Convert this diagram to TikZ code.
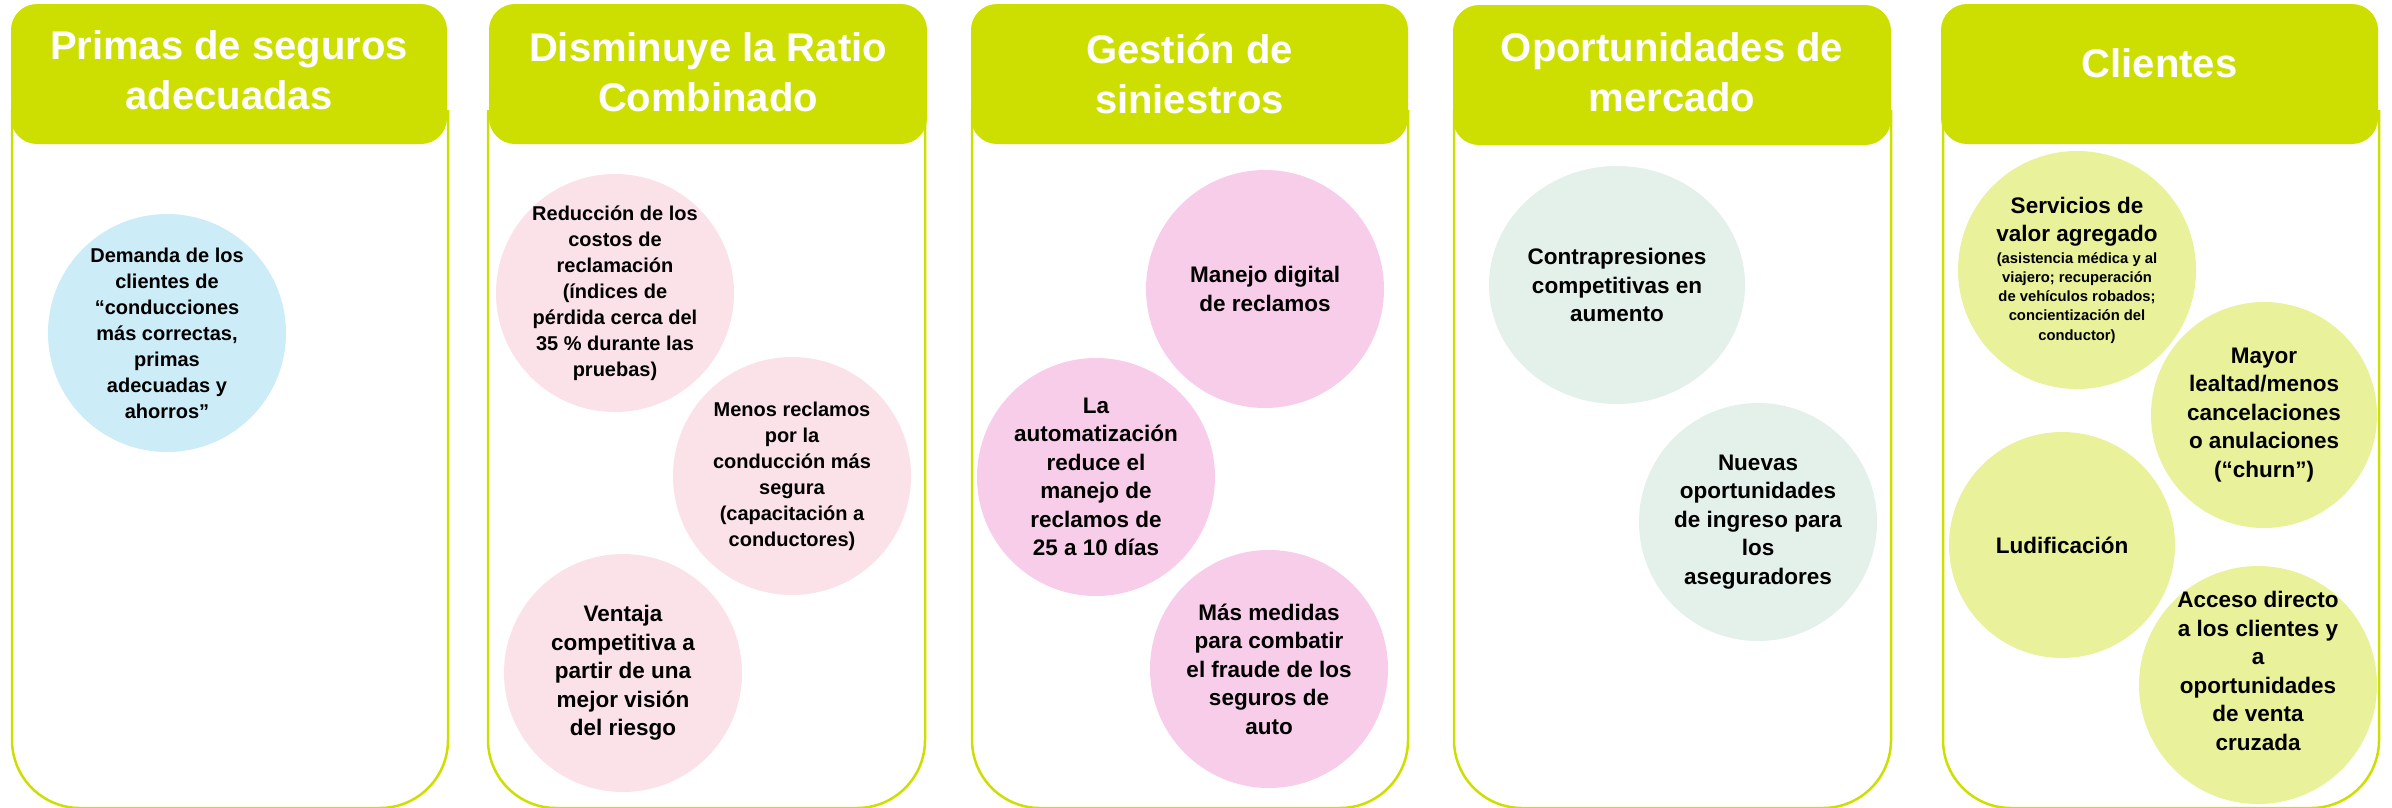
\documentclass[tikz,border=0pt]{standalone}
\usepackage{fontspec}
\setmainfont{Liberation Sans}
\usetikzlibrary{shapes.geometric}
\definecolor{hdr}{RGB}{204,223,0}
\definecolor{cblue}{RGB}{204,236,247}
\definecolor{cpinkA}{RGB}{250,226,232}
\definecolor{cpinkB}{RGB}{248,205,233}
\definecolor{cgrey}{RGB}{228,240,234}
\definecolor{cyell}{RGB}{233,241,154}
\newcommand\tstrut{\rule{0pt}{36pt}}
\newcommand\smf{\fontsize{14.8}{19.3}\selectfont}
\begin{document}
\begin{tikzpicture}[x=1pt,y=-1pt,
  colbody/.style={draw=hdr,line width=2.5pt,rounded corners=68pt},
  colhead/.style={rectangle,fill=hdr,rounded corners=26pt,inner sep=0pt,minimum height=140pt},
  ttl/.style={text=white,font=\fontsize{40}{50}\selectfont\bfseries,align=center,anchor=north,inner sep=0pt},
  bub/.style={ellipse,inner sep=0pt,minimum width=238pt,minimum height=238pt},
  bt/.style={align=center,inner sep=0pt,text=black,font=\fontsize{22.5}{28.5}\selectfont\bfseries},
  bts/.style={align=center,inner sep=0pt,text=black,font=\fontsize{20}{26}\selectfont\bfseries}
]
\useasboundingbox (0,0) rectangle (2392,807);
\clip (0,0) rectangle (2392,807);

% column bodies
\draw[colbody] (12,110) -- (12,808) -- (448,808) -- (448,110);
\draw[colbody] (488,110) -- (488,808) -- (925,808) -- (925,110);
\draw[colbody] (972,110) -- (972,808) -- (1408,808) -- (1408,110);
\draw[colbody] (1454,110) -- (1454,808) -- (1891,808) -- (1891,110);
\draw[colbody] (1943,110) -- (1943,808) -- (2379,808) -- (2379,110);

% headers
\node[colhead,minimum width=436pt] (h1) at (229,74) {};
\node[colhead,minimum width=438pt] (h2) at (708,74) {};
\node[colhead,minimum width=437pt] (h3) at (1189.5,74) {};
\node[colhead,minimum width=438pt] (h4) at (1672,75) {};
\node[colhead,minimum width=437pt] (h5) at (2159.5,74) {};

\node[ttl] (t1) at (229,23) {\tstrut Primas de seguros\\adecuadas};
\node[ttl] (t2) at (708,25) {\tstrut Disminuye la Ratio\\Combinado};
\node[ttl] (t3) at (1189.5,27) {\tstrut Gestión de\\siniestros};
\node[ttl] (t4) at (1672,25) {\tstrut Oportunidades de\\mercado};
\node[ttl] (t5) at (2159.5,41) {\tstrut Clientes};

% column 1
\node[bub,fill=cblue] (c1) at (167,333) {};
\node[bts] (c1t) at (c1) {Demanda de los\\clientes de\\“conducciones\\más correctas,\\primas\\adecuadas y\\ahorros”};

% column 2
\node[bub,fill=cpinkA] (r1) at (615,293) {};
\node[bts] (r1t) at (r1) {Reducción de los\\costos de\\reclamación\\(índices de\\pérdida cerca del\\35~\% durante las\\pruebas)};
\node[bub,fill=cpinkA] (r2) at (792,476) {};
\node[bts] (r2t) at (r2) {Menos reclamos\\por la\\conducción más\\segura\\(capacitación a\\conductores)};
\node[bub,fill=cpinkA] (r3) at (623,673) {};
\node[bt] (r3t) at (r3) {Ventaja\\competitiva a\\partir de una\\mejor visión\\del riesgo};

% column 3
\node[bub,fill=cpinkB] (m1) at (1265,289) {};
\node[bt] (m1t) at (m1) {Manejo digital\\de reclamos};
\node[bub,fill=cpinkB] (m2) at (1096,477) {};
\node[bt] (m2t) at (m2) {La\\automatización\\reduce el\\manejo de\\reclamos de\\25 a 10 días};
\node[bub,fill=cpinkB] (m3) at (1269,669) {};
\node[bt] (m3t) at (m3) {Más medidas\\para combatir\\el fraude de los\\seguros de\\auto};

% column 4
\node[bub,fill=cgrey,minimum width=256pt] (o1) at (1617,285) {};
\node[bt] (o1t) at (o1) {Contrapresiones\\competitivas en\\aumento};
\node[bub,fill=cgrey] (o2) at (1758,522) {};
\node[bt] (o2t) at (o2) {Nuevas\\oportunidades\\de ingreso para\\los\\aseguradores};

% column 5
\node[bub,fill=cyell] (v1) at (2077,270) {};
\node[bt] (v1t) at (v1) {Servicios de\\valor agregado\\[-7pt]\smf(asistencia médica y al\\[-9.2pt]\smf viajero; recuperación\\[-9.2pt]\smf de vehículos robados;\\[-9.2pt]\smf concientización del\\[-9.2pt]\smf conductor)};
\node[bub,fill=cyell,minimum width=226pt,minimum height=226pt] (v2) at (2264,415) {};
\node[bt] (v2t) at (v2) {Mayor\\lealtad/menos\\cancelaciones\\o anulaciones\\(“churn”)};
\node[bub,fill=cyell,minimum width=226pt,minimum height=226pt] (v3) at (2062,545) {};
\node[bt] (v3t) at (v3) {Ludificación};
\node[bub,fill=cyell] (v4) at (2258,685) {};
\node[bt] (v4t) at ([yshift=14pt]v4.center) {Acceso directo\\a los clientes y\\a\\oportunidades\\de venta\\cruzada};
\end{tikzpicture}
\end{document}
